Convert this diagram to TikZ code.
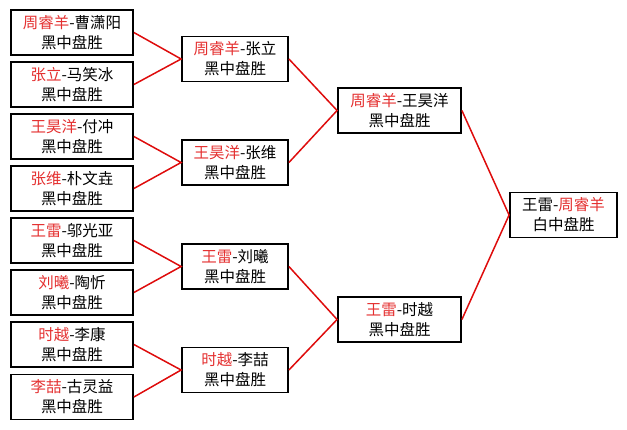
\documentclass[tikz,border=0pt]{standalone}
\usepackage{fontspec}
\setmainfont{Noto Sans CJK SC}
\definecolor{winred}{RGB}{228,48,48}
\definecolor{linkred}{RGB}{222,12,12}
\newcommand{\winner}[1]{\textcolor{winred}{#1}}

\begin{document}
\begin{tikzpicture}[x=1pt,y=-1pt,
    game/.style={draw, line width=1.8pt, inner sep=0pt, minimum height=45pt,
      align=center, font=\fontsize{15.5}{20}\selectfont},
    first/.style={game, minimum width=122pt},
    second/.style={game, minimum width=106pt},
    third/.style={game, minimum width=123pt},
    final/.style={game, minimum width=107pt},
    link/.style={draw=linkred, line width=1.5pt}]
                \useasboundingbox (0,0) rectangle (627,429);
                % first round
                \node[first] (r1a) at (72,32.5) {\winner{周睿羊}-曹潇阳\\黑中盘胜};
                \node[first] (r1b) at (72,84.5) {\winner{张立}-马笑冰\\黑中盘胜};
                \node[first] (r1c) at (72,136.5) {\winner{王昊洋}-付冲\\黑中盘胜};
                \node[first] (r1d) at (72,188.5) {\winner{张维}-朴文垚\\黑中盘胜};
                \node[first] (r1e) at (72,240.5) {\winner{王雷}-邬光亚\\黑中盘胜};
                \node[first] (r1f) at (72,292.5) {\winner{刘曦}-陶忻\\黑中盘胜};
                \node[first] (r1g) at (72,344.5) {\winner{时越}-李康\\黑中盘胜};
                \node[first] (r1h) at (72,397) {\winner{李喆}-古灵益\\黑中盘胜};
                % second round
                \node[second] (r2a) at (235,59) {\winner{周睿羊}-张立\\黑中盘胜};
                \node[second] (r2b) at (235,162.5) {\winner{王昊洋}-张维\\黑中盘胜};
                \node[second] (r2c) at (235,266.5) {\winner{王雷}-刘曦\\黑中盘胜};
                \node[second] (r2d) at (235,370) {\winner{时越}-李喆\\黑中盘胜};
                % semi finals
                \node[third] (r3a) at (399.5,110.5) {\winner{周睿羊}-王昊洋\\黑中盘胜};
                \node[third] (r3b) at (399.5,319.5) {\winner{王雷}-时越\\黑中盘胜};
                % final
                \node[final] (fin) at (563.5,215) {王雷-\winner{周睿羊}\\白中盘胜};
                \draw[link] (r1a.east) -- (r2a.west) -- (r1b.east);
                \draw[link] (r1c.east) -- (r2b.west) -- (r1d.east);
                \draw[link] (r1e.east) -- (r2c.west) -- (r1f.east);
                \draw[link] (r1g.east) -- (r2d.west) -- (r1h.east);
                \draw[link] (r2a.east) -- (r3a.west) -- (r2b.east);
                \draw[link] (r2c.east) -- (r3b.west) -- (r2d.east);
                \draw[link] (r3a.east) -- (fin.west) -- (r3b.east);
\end{tikzpicture}
\end{document}
